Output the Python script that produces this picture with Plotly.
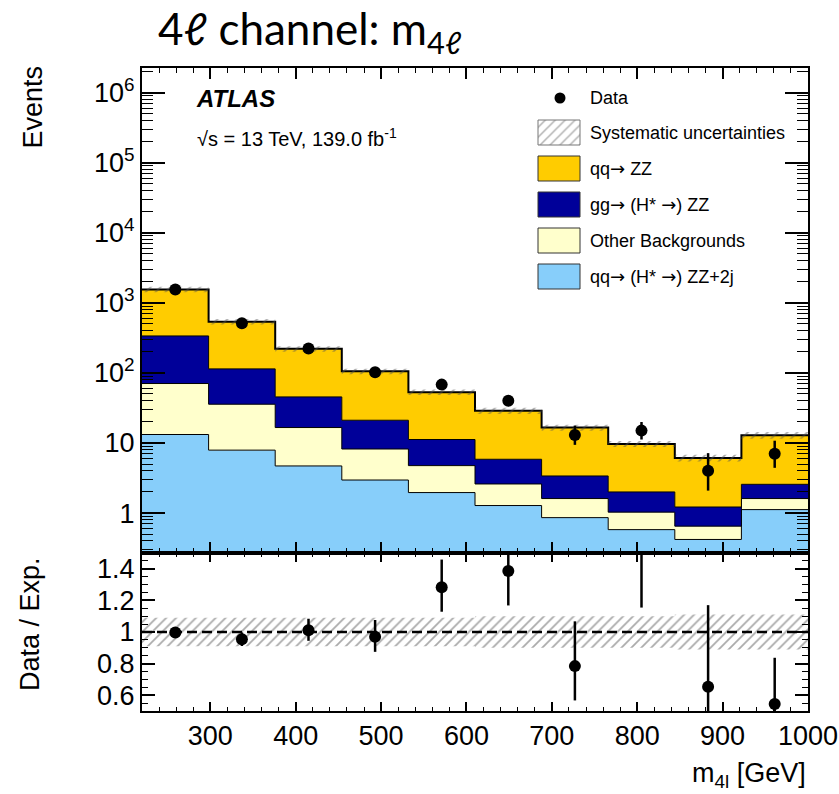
import numpy as np
import plotly.graph_objects as go

# ---- binning and yields ----
bin_edges = [220, 298, 376, 454, 532, 610, 688, 766, 844, 922, 1000]
qq_zz_2j = [13.2, 7.9, 4.7, 2.96, 1.96, 1.28, 0.86, 0.58, 0.42, 1.12]
other_bkg = [57.3, 27.8, 11.9, 5.24, 2.79, 1.32, 0.75, 0.45, 0.23, 0.49]
gg_zz = [266, 78.3, 28.8, 12.9, 6.45, 3.25, 1.77, 0.97, 0.57, 0.96]
qq_zz = [1213, 423, 175, 84, 41.8, 23.0, 13.2, 7.7, 4.9, 10.3]
data_counts = [1545, 512, 223, 102, 68, 40, 13, 15, 4, 7]
data_err_lo = [39.3, 22.6, 14.9, 10.1, 8.2, 6.3, 3.6, 3.8, 1.91, 2.58]
data_err_hi = [40.3, 23.6, 15.9, 11.1, 9.3, 7.4, 4.7, 4.9, 3.16, 3.77]
syst_frac = [0.09, 0.09, 0.09, 0.09, 0.09, 0.10, 0.10, 0.10, 0.11, 0.11]

y_tick_vals = [1, 10, 100, 1e3, 1e4, 1e5, 1e6]
y_tick_text = ["1", "10", "10<sup>2</sup>", "10<sup>3</sup>", "10<sup>4</sup>",
               "10<sup>5</sup>", "10<sup>6</sup>"]
r_tick_vals = [0.6, 0.8, 1.0, 1.2, 1.4]
r_tick_text = ["0.6", "0.8", "1", "1.2", "1.4"]

C_QQ = "#FFCC00"
C_GG = "#000099"
C_OTHER = "#FFFFCC"
C_2J = "#87CEFA"
FONT = "Liberation Sans, Arial, sans-serif"
ARROW = '<span style="font-family:DejaVu Sans">→</span>'

edges = np.array(bin_edges, float)
centers = 0.5 * (edges[:-1] + edges[1:])


def step_xy(vals):
    x = np.repeat(edges, 2)[1:-1]
    y = np.repeat(np.asarray(vals, float), 2)
    return x, y


stack = [(qq_zz_2j, C_2J), (other_bkg, C_OTHER), (gg_zz, C_GG), (qq_zz, C_QQ)]
cum = np.cumsum([np.asarray(s, float) for s, _ in stack], axis=0)
total = cum[-1]
syst = np.asarray(syst_frac, float)
data = np.asarray(data_counts, float)

fig = go.Figure()

# baseline below the visible range so the first layer fills to the bottom
bx, by = step_xy(np.full(10, 0.01))
fig.add_trace(go.Scatter(x=bx, y=by, mode="lines", line=dict(width=0),
                         showlegend=False, hoverinfo="skip", xaxis="x", yaxis="y"))
for i, (_, col) in enumerate(stack):
    sx, sy = step_xy(cum[i])
    last = i == len(stack) - 1
    fig.add_trace(go.Scatter(x=sx, y=sy, mode="lines", fill="tonexty", fillcolor=col,
                             line=dict(color="black", width=2 if last else 1),
                             showlegend=False, hoverinfo="skip", xaxis="x", yaxis="y"))

# systematic band on the total prediction
ux, uy = step_xy(total * (1 + syst))
lx, ly = step_xy(total * (1 - syst))
fig.add_trace(go.Scatter(x=np.concatenate([ux, lx[::-1]]), y=np.concatenate([uy, ly[::-1]]),
                         mode="lines", fill="toself", fillcolor="rgba(0,0,0,0)",
                         fillpattern=dict(shape="/", fgcolor="#555555", bgcolor="rgba(0,0,0,0)",
                                          size=7, solidity=0.25),
                         line=dict(width=0), showlegend=False, hoverinfo="skip",
                         xaxis="x", yaxis="y"))

# data points
fig.add_trace(go.Scatter(x=centers, y=data, mode="markers",
                         marker=dict(color="black", size=12),
                         error_y=dict(type="data", symmetric=False,
                                      array=data_err_hi, arrayminus=data_err_lo,
                                      color="black", thickness=2.5, width=0),
                         showlegend=False, xaxis="x", yaxis="y"))

# ---- ratio panel ----
rux, ruy = step_xy(1 + syst)
rlx, rly = step_xy(1 - syst)
fig.add_trace(go.Scatter(x=np.concatenate([rux, rlx[::-1]]), y=np.concatenate([ruy, rly[::-1]]),
                         mode="lines", fill="toself", fillcolor="rgba(0,0,0,0)",
                         fillpattern=dict(shape="/", fgcolor="#555555", bgcolor="rgba(0,0,0,0)",
                                          size=7, solidity=0.25),
                         line=dict(width=0), showlegend=False, hoverinfo="skip",
                         xaxis="x2", yaxis="y2"))
fig.add_trace(go.Scatter(x=[bin_edges[0], bin_edges[-1]], y=[1, 1], mode="lines",
                         line=dict(color="black", width=2.5, dash="10px,5px"),
                         showlegend=False, hoverinfo="skip", xaxis="x2", yaxis="y2"))
ratio = data / total
fig.add_trace(go.Scatter(x=centers, y=ratio, mode="markers",
                         marker=dict(color="black", size=12),
                         error_y=dict(type="data", symmetric=False,
                                      array=np.asarray(data_err_hi) / total,
                                      arrayminus=np.asarray(data_err_lo) / total,
                                      color="black", thickness=2.5, width=0),
                         showlegend=False, xaxis="x2", yaxis="y2"))

# ---- legend drawn on a pixel-coordinate overlay ----
leg_labels = ["Systematic uncertainties", f"qq{ARROW} ZZ", f"gg{ARROW} (H* {ARROW}) ZZ",
              "Other Backgrounds", f"qq{ARROW} (H* {ARROW}) ZZ+2j"]
leg_fill = [None, C_QQ, C_GG, C_OTHER, C_2J]
row_y = [132.5, 168.5, 204.5, 240.5, 276.5]
bx0, bx1 = 538, 580
for lab, col, yc in zip(leg_labels, leg_fill, row_y):
    y0, y1 = yc - 12.5, yc + 12.5
    kw = dict(fillcolor=col) if col else dict(
        fillcolor="rgba(0,0,0,0)",
        fillpattern=dict(shape="/", fgcolor="#666666", bgcolor="white", size=7, solidity=0.22))
    fig.add_trace(go.Scatter(x=[bx0, bx1, bx1, bx0, bx0], y=[y0, y0, y1, y1, y0],
                             mode="lines", fill="toself",
                             line=dict(color="#333333" if col else "#777777", width=1),
                             showlegend=False, hoverinfo="skip", xaxis="x3", yaxis="y3", **kw))
fig.add_trace(go.Scatter(x=[560], y=[98], mode="markers", marker=dict(color="black", size=11),
                         showlegend=False, hoverinfo="skip", xaxis="x3", yaxis="y3"))

annos = []
for lab, yc in zip(["Data"] + leg_labels, [98] + row_y):
    annos.append(dict(x=588, y=yc, xref="x3", yref="y3", text=lab, showarrow=False,
                      xanchor="left", yanchor="middle", font=dict(size=18, color="black")))
annos += [
    dict(x=194, y=98, xref="x3", yref="y3", text="<b><i>ATLAS</i></b>", showarrow=False,
         xanchor="left", yanchor="middle", font=dict(size=24, color="black")),
    dict(x=195, y=137, xref="x3", yref="y3", text="√s = 13 TeV, 139.0 fb<sup>-1</sup>",
         showarrow=False, xanchor="left", yanchor="middle", font=dict(size=20, color="black")),
    dict(x=32, y=64, xref="paper", yref="paper", text="Events", textangle=-90, showarrow=False,
         xanchor="center", yanchor="top", font=dict(size=27, color="black")),
    dict(x=808, y=775, xref="paper", yref="paper", text="m<sub>4l</sub> [GeV]", showarrow=False,
         xanchor="right", yanchor="middle", font=dict(size=27, color="black")),
    dict(x=30, y=624, xref="paper", yref="paper", text="Data / Exp.", textangle=-90,
         showarrow=False, xanchor="center", yanchor="middle", font=dict(size=27, color="black")),
    dict(x=156, y=32, xref="paper", yref="paper", text="4ℓ channel: m<sub>4ℓ</sub>",
         showarrow=False, xanchor="left", yanchor="middle",
         font=dict(size=44, color="black", family="Lato, Open Sans, sans-serif")),
]

W, H = 839, 794
ML, MR, MT, MB = 142, 31, 68, 83
# convert pixel-positioned paper annotations to fractions
for a in annos:
    if a["xref"] == "paper":
        a["x"] = (a["x"] - ML) / (W - ML - MR)
        a["y"] = (H - MB - a["y"]) / (H - MT - MB)

split = (H - MB - 553) / (H - MT - MB)

minor_log = [k * 10.0 ** d for d in range(-1, 7) for k in range(2, 10)]
axis_common = dict(showline=True, linecolor="black", linewidth=2, mirror="allticks",
                   ticks="inside", tickcolor="black", showgrid=False, zeroline=False,
                   automargin=False, tickfont=dict(size=27, color="black"))

fig.update_layout(
    width=W, height=H, margin=dict(l=ML, r=MR, t=MT, b=MB, autoexpand=False),
    paper_bgcolor="white", plot_bgcolor="rgba(0,0,0,0)",
    font=dict(family=FONT, color="black"),
    showlegend=False, annotations=annos,
    xaxis=dict(domain=[0, 1], anchor="y", range=[bin_edges[0], bin_edges[-1]],
               tick0=0, dtick=100, ticklen=11, tickwidth=1.5, showticklabels=False,
               minor=dict(ticks="inside", dtick=20, tick0=0, ticklen=5, tickcolor="black",
                          tickwidth=1.2, showgrid=False),
               **axis_common),
    yaxis=dict(domain=[split, 1], anchor="x", type="log", range=[-0.57, 6.35],
               tickmode="array", tickvals=y_tick_vals, ticktext=y_tick_text,
               ticklen=23, tickwidth=1.5,
               minor=dict(ticks="inside", tickmode="array", tickvals=minor_log,
                          ticklen=11, tickcolor="black", tickwidth=1.2, showgrid=False),
               **axis_common),
    xaxis2=dict(domain=[0, 1], anchor="y2", range=[bin_edges[0], bin_edges[-1]],
                tick0=0, dtick=100, ticklen=9, tickwidth=1.5,
                minor=dict(ticks="inside", dtick=20, tick0=0, ticklen=4, tickcolor="black",
                           tickwidth=1.2, showgrid=False),
                **axis_common),
    yaxis2=dict(domain=[0, split], anchor="x2", range=[0.5, 1.5],
                tickmode="array", tickvals=r_tick_vals, ticktext=r_tick_text,
                ticklen=13, tickwidth=1.5,
                minor=dict(ticks="inside", dtick=0.05, tick0=0, ticklen=6, tickcolor="black",
                           tickwidth=1.2, showgrid=False),
                **axis_common),
    xaxis3=dict(domain=[0, 1], anchor="y3", range=[ML, W - MR], visible=False),
    yaxis3=dict(domain=[0, 1], anchor="x3", range=[H - MB, MT], visible=False),
)

fig.write_html("out.html")
